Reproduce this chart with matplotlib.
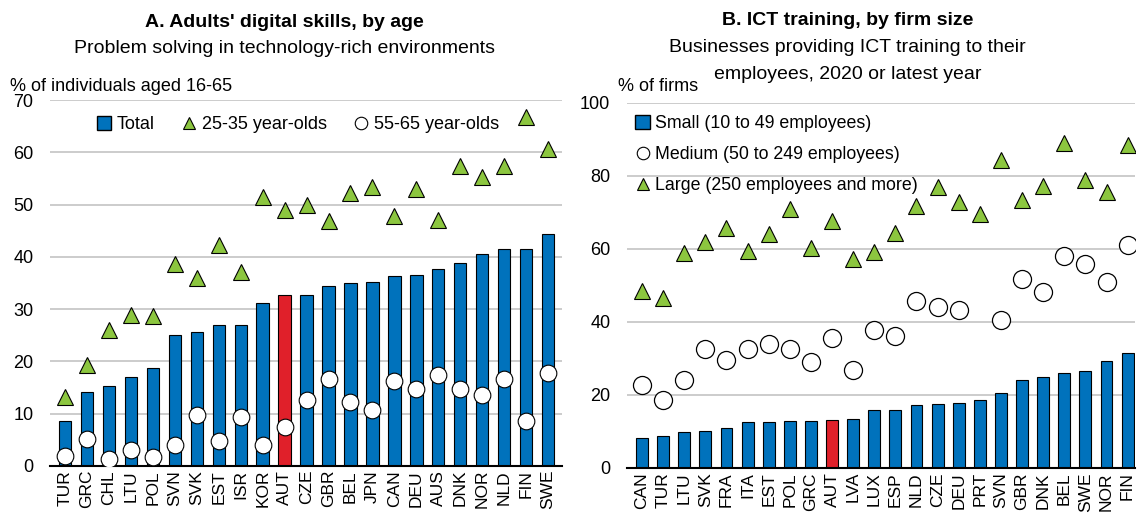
import numpy as np
import matplotlib
matplotlib.use("Agg")
import matplotlib.pyplot as plt
from matplotlib.lines import Line2D
from matplotlib.patches import Patch

plt.rcParams["font.family"] = ["Liberation Sans", "DejaVu Sans"]

BLUE, RED, GREEN, GRID = "#0072BC", "#E0202A", "#8CC63F", "#C8C8C8"

# Panel A: adults' digital skills
a_cty = ["TUR", "GRC", "CHL", "LTU", "POL", "SVN", "SVK", "EST", "ISR", "KOR", "AUT", "CZE",
         "GBR", "BEL", "JPN", "CAN", "DEU", "AUS", "DNK", "NOR", "NLD", "FIN", "SWE"]
a_total = [8.5, 14.2, 15.2, 17.0, 18.7, 25.0, 25.6, 26.9, 26.9, 31.1, 32.6, 32.6,
           34.4, 34.9, 35.1, 36.4, 36.6, 37.6, 38.8, 40.6, 41.4, 41.4, 44.4]
a_young = [13.2, 19.3, 26.0, 28.9, 28.6, 38.7, 36.0, 42.2, 37.1, 51.5, 48.9, 49.9,
           46.8, 52.2, 53.4, 47.8, 53.0, 47.0, 57.3, 55.2, 57.3, 66.7, 60.6]
a_old = [1.9, 5.1, 1.3, 3.0, 1.7, 4.0, 9.7, 4.8, 9.4, 4.0, 7.5, 12.6,
         16.6, 12.2, 10.7, 16.3, 14.7, 17.3, 14.7, 13.6, 16.6, 8.6, 17.7]

# Panel B: ICT training by firm size
b_cty = ["CAN", "TUR", "LTU", "SVK", "FRA", "ITA", "EST", "POL", "GRC", "AUT", "LVA", "LUX",
         "ESP", "NLD", "CZE", "DEU", "PRT", "SVN", "GBR", "DNK", "BEL", "SWE", "NOR", "FIN"]
b_small = [8.1, 8.7, 9.7, 10.1, 10.8, 12.5, 12.5, 12.7, 12.7, 13.1, 13.3, 15.8,
           15.9, 17.2, 17.6, 17.8, 18.7, 20.5, 24.0, 24.8, 26.1, 26.6, 29.2, 31.5]
b_medium = [22.6, 18.5, 24.0, 32.6, 29.6, 32.6, 33.9, 32.5, 29.1, 35.6, 26.7, 37.8,
            36.0, 45.8, 44.0, 43.1, np.nan, 40.6, 51.8, 48.1, 58.1, 55.9, 51.0, 60.9]
b_large = [48.3, 46.5, 58.8, 61.7, 65.7, 59.3, 64.1, 70.9, 60.2, 67.7, 57.3, 59.0,
           64.3, 71.8, 77.0, 72.9, 69.6, 84.2, 73.2, 77.2, 88.9, 78.9, 75.4, 88.4]

fig = plt.figure(figsize=(11.38, 5.13), dpi=100)
axA = fig.add_axes([0.044, 0.092, 0.450, 0.713])
axB = fig.add_axes([0.551, 0.088, 0.446, 0.712])


def style(ax, top, step):
    ax.set_ylim(0, top)
    ax.set_yticks(np.arange(0, top + 1, step))
    ax.grid(axis="y", color=GRID, lw=1.3)
    ax.set_axisbelow(True)
    for s in ("left", "right", "top"):
        ax.spines[s].set_visible(False)
    ax.spines["bottom"].set_linewidth(1.5)
    ax.tick_params(axis="y", length=0, pad=12, labelsize=13)
    ax.tick_params(axis="x", length=0, pad=3, labelsize=12.5, labelrotation=90)


def bars(ax, names, vals):
    x = np.arange(len(names))
    cols = [RED if n == "AUT" else BLUE for n in names]
    ax.bar(x, vals, width=0.56, color=cols, edgecolor="black", lw=0.8, zorder=2)
    ax.set_xticks(x)
    ax.set_xticklabels(names)
    return x


# ---- panel A
x = bars(axA, a_cty, a_total)
axA.plot(x, a_young, ls="none", marker="^", ms=12, mfc=GREEN, mec="black", mew=0.8, zorder=3)
axA.plot(x, a_old, ls="none", marker="o", ms=12, mfc="white", mec="black", mew=0.8, zorder=3)
style(axA, 70, 10)
axA.set_xlim(-0.68, 22.64)
axA.legend(handles=[
    Patch(facecolor=BLUE, edgecolor="black", label="Total"),
    Line2D([], [], ls="none", marker="^", ms=9, mfc=GREEN, mec="black", mew=0.8,
           label="25-35 year-olds"),
    Line2D([], [], ls="none", marker="o", ms=9, mfc="white", mec="black", mew=0.8,
           label="55-65 year-olds"),
], loc="upper left", bbox_to_anchor=(0.06, 1.0), ncol=3, frameon=False, fontsize=13,
    handlelength=0.8, handletextpad=0.3, columnspacing=1.5, handleheight=0.8)

# ---- panel B
x = bars(axB, b_cty, b_small)
axB.plot(x, b_medium, ls="none", marker="o", ms=13, mfc="white", mec="black", mew=0.9, zorder=3)
axB.plot(x, b_large, ls="none", marker="^", ms=12, mfc=GREEN, mec="black", mew=0.8, zorder=3)
style(axB, 100, 20)
axB.set_xlim(-0.71, 23.33)
axB.legend(handles=[
    Patch(facecolor=BLUE, edgecolor="black", label="Small (10 to 49 employees)"),
    Line2D([], [], ls="none", marker="o", ms=9, mfc="white", mec="black", mew=0.8,
           label="Medium (50 to 249 employees)"),
    Line2D([], [], ls="none", marker="^", ms=9, mfc=GREEN, mec="black", mew=0.8,
           label="Large (250 employees and more)"),
], loc="upper left", bbox_to_anchor=(-0.015, 1.01), ncol=1, frameon=False, fontsize=12.8,
    handlelength=0.8, handletextpad=0.3, labelspacing=0.8, handleheight=0.8)

# ---- titles
fig.text(0.25, 0.957, "A. Adults' digital skills, by age", ha="center", va="center",
         fontsize=14, fontweight="bold")
fig.text(0.25, 0.906, "Problem solving in technology-rich environments", ha="center",
         va="center", fontsize=14)
fig.text(0.009, 0.832, "% of individuals aged 16-65", ha="left", va="center", fontsize=13)
fig.text(0.745, 0.961, "B. ICT training, by firm size", ha="center", va="center",
         fontsize=14, fontweight="bold")
fig.text(0.745, 0.908, "Businesses providing ICT training to their", ha="center",
         va="center", fontsize=14)
fig.text(0.745, 0.854, "employees, 2020 or latest year", ha="center", va="center", fontsize=14)
fig.text(0.543, 0.832, "% of firms", ha="left", va="center", fontsize=13)

fig.savefig("out.png", dpi=100)
